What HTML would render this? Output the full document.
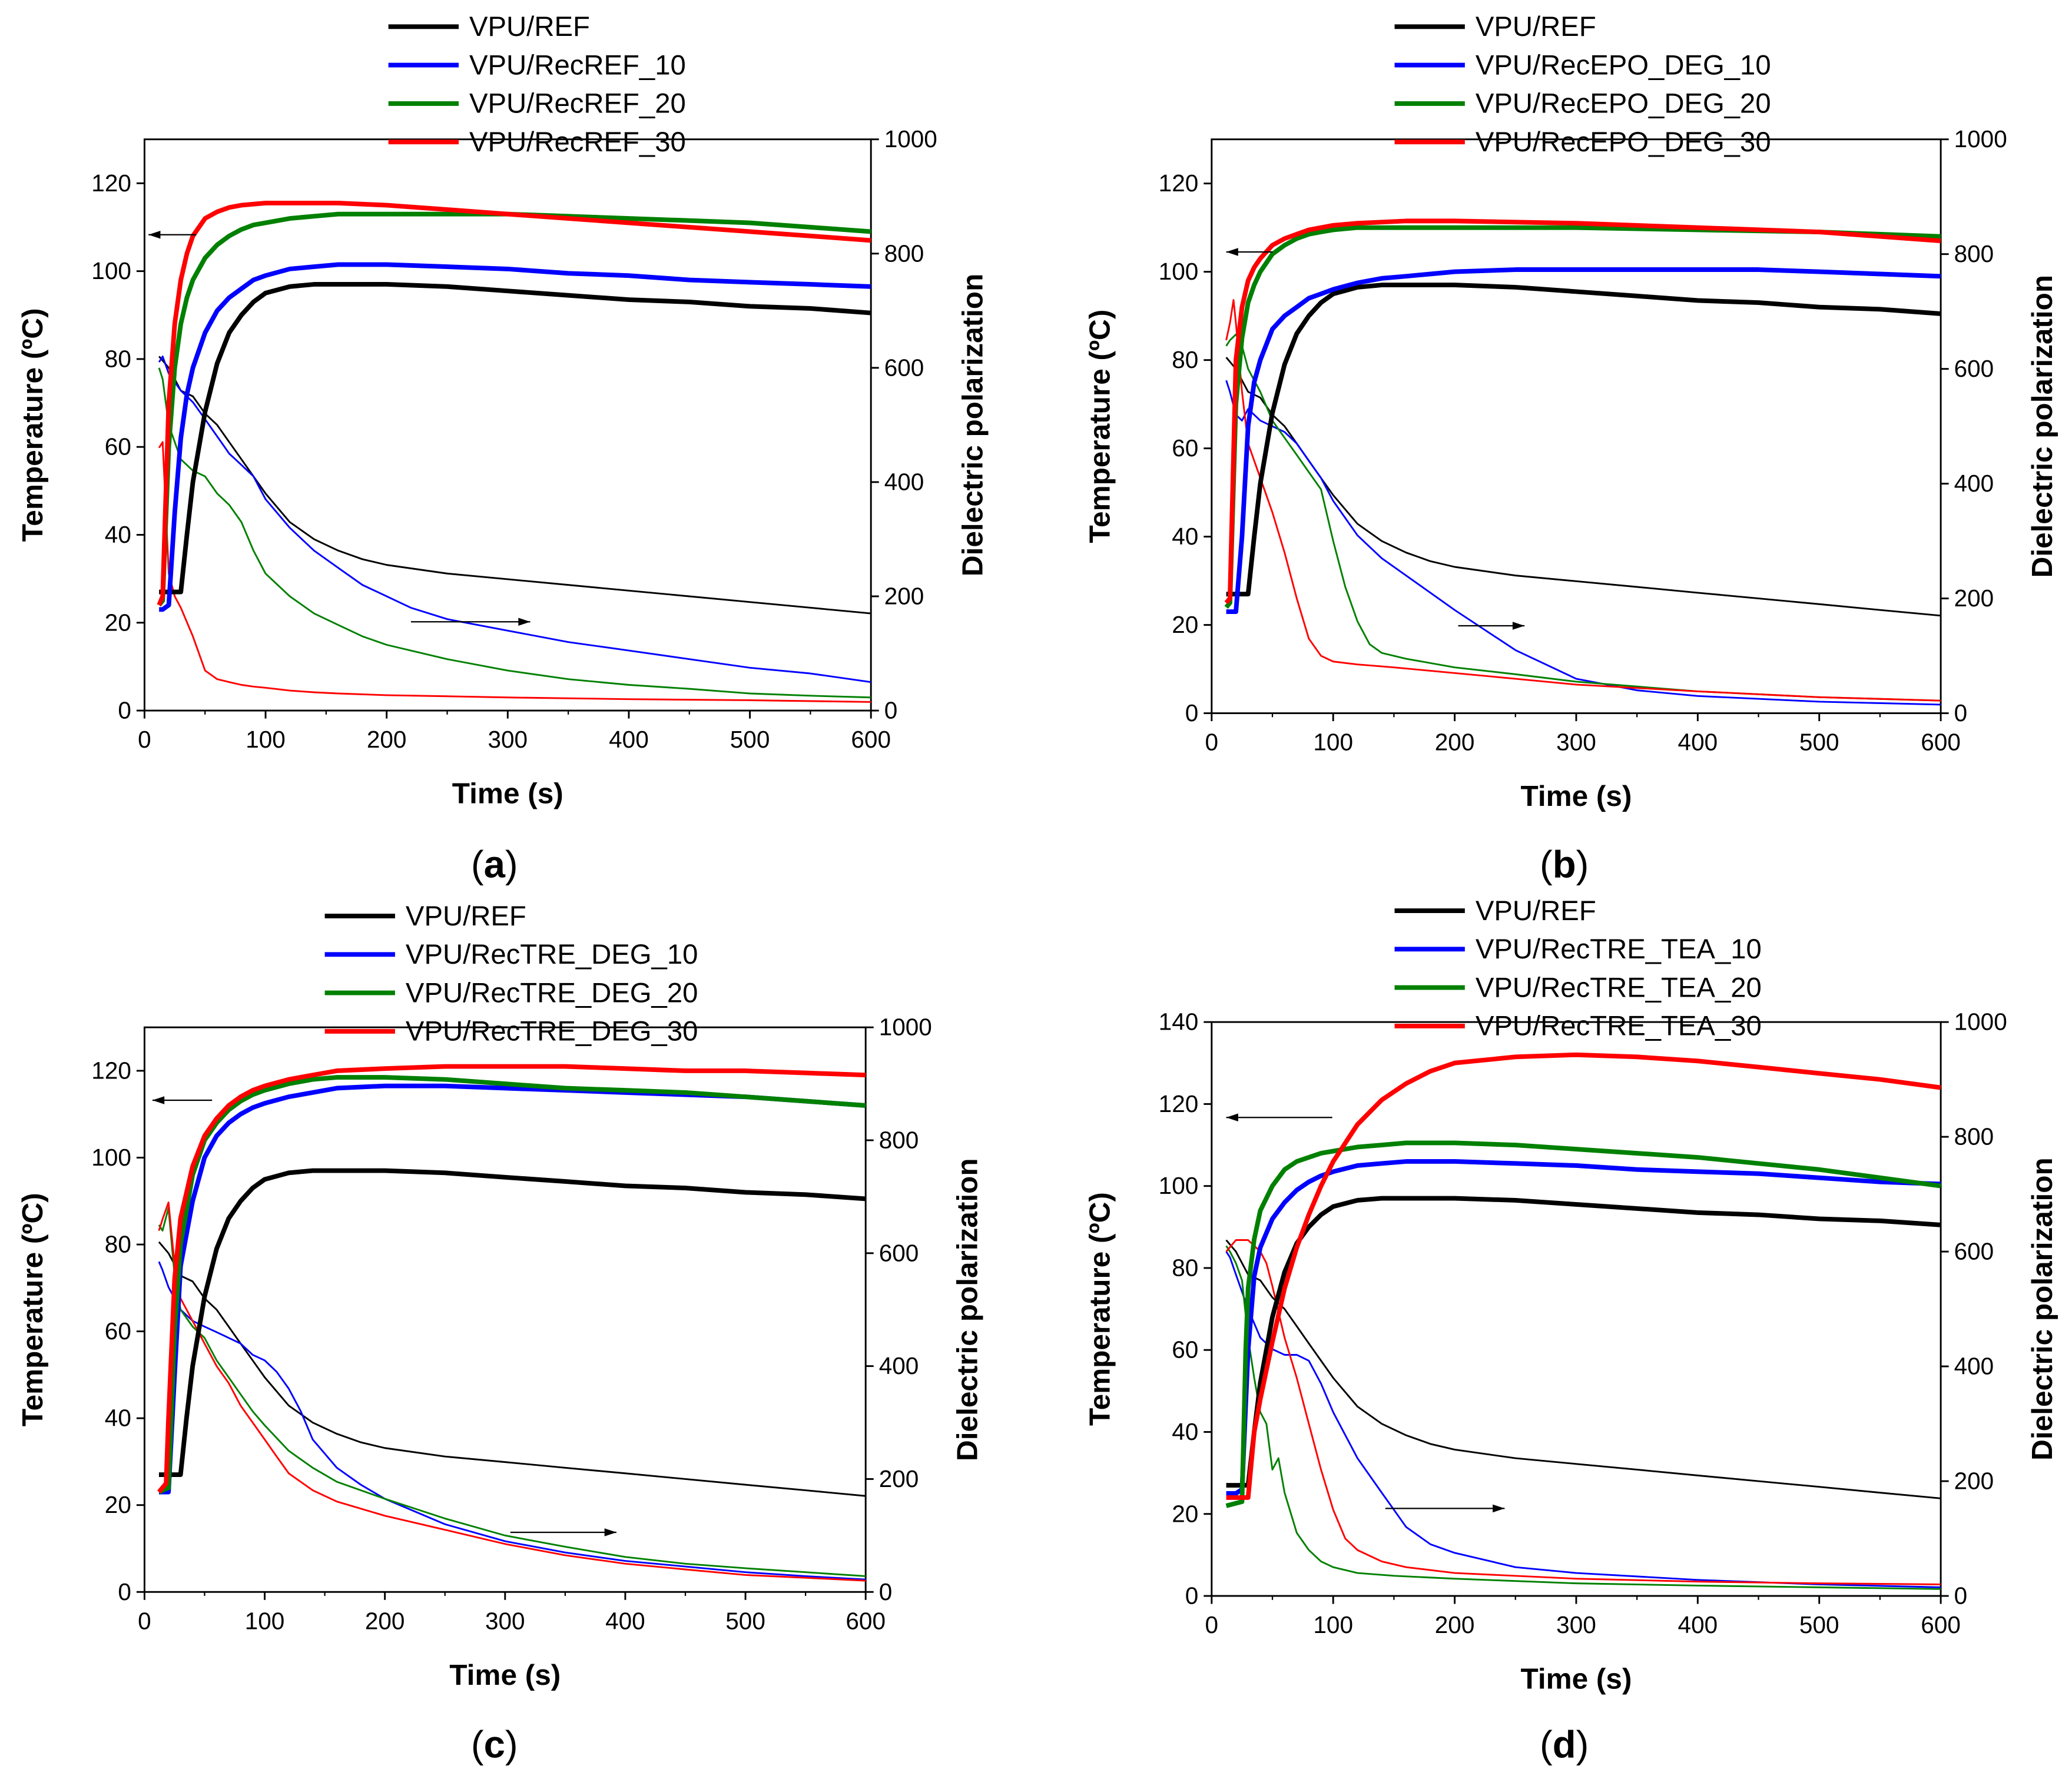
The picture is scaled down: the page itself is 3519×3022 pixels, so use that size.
<!DOCTYPE html>
<html><head><meta charset="utf-8"><style>
html,body{margin:0;padding:0;background:#fff}
svg{display:block}
text{font-family:"Liberation Sans",Arial,sans-serif}
</style></head><body>
<svg id="fig" xmlns="http://www.w3.org/2000/svg" width="3519" height="3022" viewBox="0 0 1563 1342"></svg>
<script>
// ---------- DATA (time s, value) ----------
const refTemp=[[12,27],[20,27],[25,27],[30,27],[35,40],[40,52],[50,68],[60,79],[70,86],[80,90],[90,93],[100,95],[120,96.5],[140,97],[160,97],[200,97],[250,96.5],[300,95.5],[350,94.5],[400,93.5],[450,93],[500,92],[550,91.5],[600,90.5]];
const refDiel=[[12,620],[20,600],[30,560],[40,550],[50,520],[60,500],[70,470],[80,440],[90,410],[100,380],[120,330],[140,300],[160,280],[180,265],[200,255],[250,240],[300,230],[350,220],[400,210],[450,200],[500,190],[550,180],[600,170]];

const aBlueT=[[12,23],[15,23],[20,24],[25,45],[30,62],[35,72],[40,78],[50,86],[60,91],[70,94],[80,96],[90,98],[100,99],[120,100.5],[140,101],[160,101.5],[200,101.5],[250,101],[300,100.5],[350,99.5],[400,99],[450,98],[500,97.5],[550,97],[600,96.5]];
const aGreenT=[[12,24],[15,25],[20,60],[25,78],[30,88],[35,94],[40,98],[50,103],[60,106],[70,108],[80,109.5],[90,110.5],[100,111],[120,112],[140,112.5],[160,113],[200,113],[300,113],[350,112.5],[400,112],[450,111.5],[500,111],[550,110],[600,109]];
const aRedT=[[12,24],[15,26],[20,70],[25,88],[30,98],[35,104],[40,108],[50,112],[60,113.5],[70,114.5],[80,115],[100,115.5],[160,115.5],[200,115],[250,114],[300,113],[350,112],[400,111],[450,110],[500,109],[550,108],[600,107]];
const aBlueD=[[12,610],[15,620],[20,590],[30,560],[40,540],[50,510],[60,480],[70,450],[80,430],[90,410],[100,370],[120,320],[140,280],[160,250],[180,220],[200,200],[220,180],[250,160],[300,140],[350,120],[400,105],[450,90],[500,75],[550,65],[600,50]];
const aGreenD=[[12,600],[15,580],[20,500],[30,440],[40,420],[50,410],[60,380],[70,360],[80,330],[90,280],[100,240],[120,200],[140,170],[160,150],[180,130],[200,115],[250,90],[300,70],[350,55],[400,45],[450,38],[500,30],[550,26],[600,23]];
const aRedD=[[12,460],[15,470],[20,240],[25,200],[30,180],[40,130],[50,70],[60,55],[70,50],[80,45],[90,42],[100,40],[120,35],[140,32],[160,30],[200,27],[250,25],[300,23],[400,20],[500,18],[600,15]];

const bBlueT=[[12,23],[20,23],[25,40],[30,65],[35,75],[40,80],[50,87],[60,90],[70,92],[80,94],[90,95],[100,96],[120,97.5],[140,98.5],[160,99],[180,99.5],[200,100],[250,100.5],[450,100.5],[500,100],[550,99.5],[600,99]];
const bGreenT=[[12,24],[15,25],[20,70],[25,85],[30,93],[35,97],[40,100],[50,104],[60,106],[70,107.5],[80,108.5],[90,109],[100,109.5],[120,110],[300,110],[400,109.5],[500,109],[600,108]];
const bRedT=[[12,25],[15,26],[20,80],[25,92],[30,98],[35,101],[40,103],[50,106],[60,107.5],[70,108.5],[80,109.5],[90,110],[100,110.5],[120,111],[160,111.5],[200,111.5],[300,111],[400,110],[500,109],[600,107]];
const bBlueD=[[12,580],[15,560],[20,520],[25,510],[30,530],[40,510],[50,500],[60,490],[70,470],[80,440],[90,410],[100,370],[120,310],[140,270],[160,240],[180,210],[200,180],[250,110],[300,60],[350,40],[400,30],[500,20],[600,15]];
const bGreenD=[[12,640],[15,650],[20,660],[25,640],[30,600],[40,560],[50,510],[60,480],[70,450],[80,420],[90,390],[100,300],[110,220],[120,160],[130,120],[140,105],[160,95],[200,80],[250,68],[300,55],[400,38],[500,28],[600,22]];
const bRedD=[[12,650],[15,680],[18,720],[20,680],[25,560],[30,470],[40,410],[50,350],[60,280],[70,200],[80,130],[90,100],[100,90],[120,85],[150,80],[200,70],[250,60],[300,50],[400,38],[500,28],[600,22]];

const cBlueT=[[12,23],[20,23],[25,50],[30,75],[40,90],[50,100],[60,105],[70,108],[80,110],[90,111.5],[100,112.5],[120,114],[140,115],[160,116],[200,116.5],[250,116.5],[300,116],[350,115.5],[400,115],[450,114.5],[500,114],[550,113],[600,112]];
const cGreenT=[[12,23],[20,24],[25,60],[30,80],[40,96],[50,104],[60,108],[70,111],[80,113],[90,114.5],[100,115.5],[120,117],[140,118],[160,118.5],[200,118.5],[250,118],[300,117],[350,116],[400,115.5],[450,115],[500,114],[550,113],[600,112]];
const cRedT=[[12,23],[18,25],[20,40],[25,72],[30,86],[40,98],[50,105],[60,109],[70,112],[80,114],[90,115.5],[100,116.5],[120,118],[140,119],[160,120],[200,120.5],[250,121],[350,121],[400,120.5],[450,120],[500,120],[550,119.5],[600,119]];
const cBlueD=[[12,585],[15,570],[20,540],[30,500],[40,480],[50,470],[60,460],[70,450],[80,440],[90,420],[100,410],[110,390],[120,360],[130,320],[140,270],[160,220],[180,190],[200,165],[250,120],[300,90],[350,70],[400,55],[450,45],[500,35],[550,28],[600,22]];
const cGreenD=[[12,650],[15,640],[20,680],[25,560],[30,500],[40,470],[50,450],[60,410],[70,380],[80,350],[90,320],[100,295],[120,250],[140,220],[160,195],[200,165],[250,130],[300,100],[350,80],[400,62],[450,50],[500,42],[550,35],[600,28]];
const cRedD=[[12,640],[15,660],[20,690],[25,580],[30,520],[40,480],[50,440],[60,400],[70,370],[80,330],[90,300],[100,270],[110,240],[120,210],[140,180],[160,160],[200,135],[250,110],[300,85],[350,65],[400,50],[450,40],[500,30],[550,25],[600,20]];

const dBlueT=[[12,25],[20,25],[25,26],[30,60],[35,78],[40,85],[50,92],[60,96],[70,99],[80,101],[90,102.5],[100,103.5],[120,105],[140,105.5],[160,106],[200,106],[250,105.5],[300,105],[350,104],[400,103.5],[450,103],[500,102],[550,101],[600,100.5]];
const dGreenT=[[12,22],[25,23],[28,60],[30,75],[35,87],[40,94],[50,100],[60,104],[70,106],[80,107],[90,108],[100,108.5],[120,109.5],[140,110],[160,110.5],[200,110.5],[250,110],[300,109],[350,108],[400,107],[450,105.5],[500,104],[550,102],[600,100]];
const dRedT=[[12,24],[30,24],[35,40],[40,48],[50,62],[60,75],[70,85],[80,93],[90,100],[100,106],[120,115],[140,121],[160,125],[180,128],[200,130],[250,131.5],[300,132],[350,131.5],[400,130.5],[450,129],[500,127.5],[550,126],[600,124]];
const dBlueD=[[12,600],[15,590],[20,560],[25,530],[30,500],[40,450],[50,430],[60,420],[70,420],[80,410],[90,370],[100,320],[120,240],[140,180],[150,150],[160,120],[180,90],[200,75],[250,50],[300,40],[400,28],[500,20],[600,15]];
const dGreenD=[[12,610],[15,600],[20,580],[25,550],[30,450],[35,380],[40,320],[45,300],[50,220],[55,240],[60,180],[70,110],[80,80],[90,60],[100,50],[120,40],[150,35],[200,30],[300,22],[400,18],[500,15],[600,12]];
const dRedD=[[12,600],[20,620],[30,620],[40,600],[45,580],[50,540],[60,450],[70,380],[80,300],[90,220],[100,150],[110,100],[120,80],[140,60],[160,50],[200,40],[300,30],[400,25],[500,22],[600,20]];

const xTicks=[0,100,200,300,400,500,600];
const rightTicks=[0,200,400,600,800,1000];
const legendA=["VPU/REF","VPU/RecREF_10","VPU/RecREF_20","VPU/RecREF_30"];
const legendB=["VPU/REF","VPU/RecEPO_DEG_10","VPU/RecEPO_DEG_20","VPU/RecEPO_DEG_30"];
const legendC=["VPU/REF","VPU/RecTRE_DEG_10","VPU/RecTRE_DEG_20","VPU/RecTRE_DEG_30"];
const legendD=["VPU/REF","VPU/RecTRE_TEA_10","VPU/RecTRE_TEA_20","VPU/RecTRE_TEA_30"];
const colors=["#000000","#0000ff","#008000","#ff0000"];

// ---------- DRAW ----------
const NS="http://www.w3.org/2000/svg";
const svg=document.getElementById('fig');
function mk(tag,attrs,parent,txt){const e=document.createElementNS(NS,tag);for(const k in attrs)e.setAttribute(k,attrs[k]);if(txt!==undefined)e.textContent=txt;(parent||svg).appendChild(e);return e;}

const panels=[
 {id:'a',x0:109,x1:657,yb:536,yt:105,lmax:130,lticks:[0,20,40,60,80,100,120],legend:legendA,lx:293,ly:20,temps:[refTemp,aBlueT,aGreenT,aRedT],diels:[refDiel,aBlueD,aGreenD,aRedD],arL:[148,112,177],arR:[310,400,469],cap:[373,652]},
 {id:'b',x0:914,x1:1464,yb:538,yt:105,lmax:130,lticks:[0,20,40,60,80,100,120],legend:legendB,lx:1052,ly:20,temps:[refTemp,bBlueT,bGreenT,bRedT],diels:[refDiel,bBlueD,bGreenD,bRedD],arL:[960,925,190],arR:[1100,1150,472],cap:[1180,652]},
 {id:'c',x0:109,x1:653,yb:1201,yt:775,lmax:130,lticks:[0,20,40,60,80,100,120],legend:legendC,lx:245,ly:691,temps:[refTemp,cBlueT,cGreenT,cRedT],diels:[refDiel,cBlueD,cGreenD,cRedD],arL:[160,115,830],arR:[385,465,1156],cap:[373,1316]},
 {id:'d',x0:914,x1:1464,yb:1204,yt:771,lmax:140,lticks:[0,20,40,60,80,100,120,140],legend:legendD,lx:1052,ly:687,temps:[refTemp,dBlueT,dGreenT,dRedT],diels:[refDiel,dBlueD,dGreenD,dRedD],arL:[1005,925,843],arR:[1045,1135,1138],cap:[1180,1316]}
];
const sNames=['ref','10','20','30'];

panels.forEach(p=>{
 const g=mk('g',{});
 
 
 const X=t=>p.x0+(p.x1-p.x0)*t/600;
 const YL=v=>p.yb-(p.yb-p.yt)*v/p.lmax;
 const YR=v=>p.yb-(p.yb-p.yt)*v/1000;
 const box=mk('rect',{x:p.x0,y:p.yt,width:p.x1-p.x0,height:p.yb-p.yt,fill:'none',stroke:'#000','stroke-width':1.3},g);
 
 
 xTicks.forEach(t=>{
  mk('line',{x1:X(t),x2:X(t),y1:p.yb,y2:p.yb+6,stroke:'#000','stroke-width':1.3},g);
  if(t<600) mk('line',{x1:X(t+50),x2:X(t+50),y1:p.yb,y2:p.yb+3,stroke:'#000','stroke-width':1},g);
  const tl=mk('text',{x:X(t),y:p.yb+28,'font-size':18,'text-anchor':'middle'},g,t);
  
  
 });
 p.lticks.forEach(v=>{
  mk('line',{x1:p.x0-6,x2:p.x0,y1:YL(v),y2:YL(v),stroke:'#000','stroke-width':1.3},g);
  const tl=mk('text',{x:p.x0-10,y:YL(v)+6,'font-size':18,'text-anchor':'end'},g,v);
  
  
 });
 rightTicks.forEach(v=>{
  mk('line',{x1:p.x1,x2:p.x1+6,y1:YR(v),y2:YR(v),stroke:'#000','stroke-width':1.3},g);
  const tl=mk('text',{x:p.x1+10,y:YR(v)+6,'font-size':18},g,v);
  
  
 });
 const cy=(p.yb+p.yt)/2;
 const xt=mk('text',{x:(p.x0+p.x1)/2,y:p.yb+70,'font-size':22,'font-weight':'bold','text-anchor':'middle'},g,'Time (s)');
 
 
 const lt=mk('text',{x:0,y:0,'font-size':22,'font-weight':'bold','text-anchor':'middle',transform:`translate(${p.x0-77},${cy}) rotate(-90)`},g,'Temperature (ºC)');
 
 
 const rt=mk('text',{x:0,y:0,'font-size':22,'font-weight':'bold','text-anchor':'middle',transform:`translate(${p.x1+84},${cy}) rotate(-90)`},g,'Dielectric polarization');
 
 
 const path=(arr,Y)=>arr.map((d,i)=>(i?'L':'M')+X(d[0]).toFixed(1)+','+Y(d[1]).toFixed(1)).join(' ');
 p.diels.forEach((s,i)=>{
  const e=mk('path',{d:path(s,YR),fill:'none',stroke:colors[i],'stroke-width':1.3,'stroke-linejoin':'round'},g);
  
  
 });
 p.temps.forEach((s,i)=>{
  const e=mk('path',{d:path(s,YL),fill:'none',stroke:colors[i],'stroke-width':3.5,'stroke-linejoin':'round'},g);
  
  
 });
 [[p.arL,'left-axis-arrow'],[p.arR,'right-axis-arrow']].forEach(([a,n])=>{
  const ag=mk('g',{},g);
  
  
  const [xa,xb,y]=a;const dir=xb>xa?1:-1;
  mk('line',{x1:xa,x2:xb,y1:y,y2:y,stroke:'#000','stroke-width':1},ag);
  mk('path',{d:`M${xb},${y} L${xb-dir*9},${y-3} L${xb-dir*9},${y+3} Z`,fill:'#000'},ag);
 });
 p.legend.forEach((name,i)=>{
  const lg=mk('g',{},g);
  
  
  const y=p.ly+i*29;
  mk('line',{x1:p.lx,x2:p.lx+53,y1:y,y2:y,stroke:colors[i],'stroke-width':3.5},lg);
  mk('text',{x:p.lx+61,y:y+7,'font-size':21},lg,name);
 });
 const cap=mk('text',{x:p.cap[0],y:p.cap[1]+10,'font-size':29,'text-anchor':'middle','font-family':'Liberation Serif, serif'},g);
 
 
 cap.textContent='(';
 mk('tspan',{'font-weight':'bold'},cap,p.id);
 mk('tspan',{},cap,')');
});
</script>
</body></html>
